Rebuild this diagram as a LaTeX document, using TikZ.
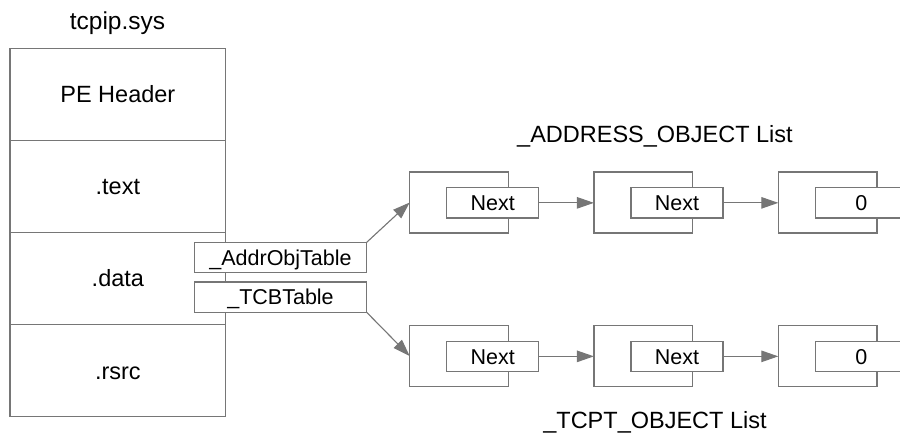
\documentclass[tikz,border=0pt]{standalone}
\usepackage{fontspec}
\setmainfont{Liberation Sans}
\usetikzlibrary{arrows.meta}
\definecolor{linegray}{RGB}{118,118,118}
\tikzset{
  base/.style={inner sep=0pt, outer sep=0pt, text depth=0pt, text=black},
  big/.style={font=\fontsize{23.5}{28}\selectfont, text height=16.8pt},
  small/.style={font=\fontsize{21.5}{26}\selectfont, text height=15.4pt},
  sect/.style={base, big, draw=linegray, line width=1.2pt, fill=white, minimum width=215.7pt, minimum height=92.1pt},
  varbox/.style={base, small, draw=linegray, line width=1.2pt, fill=white, minimum width=172.4pt, minimum height=30.4pt},
  outerbox/.style={base, draw=linegray, line width=1.2pt, fill=white, minimum width=98.6pt, minimum height=61pt},
  innerbox/.style={base, small, draw=linegray, line width=1.2pt, fill=white, minimum width=92pt, minimum height=30.3pt},
  lbl/.style={base, big},
  link/.style={draw=linegray, line width=1.1pt, -{Triangle[length=17pt,width=11.5pt]}, fill=linegray}
}
\begin{document}
\begin{tikzpicture}[x=1pt,y=-1pt]
\useasboundingbox (0,0) rectangle (900,434);
\clip (0,0) rectangle (900,434);
% file column
\node[inner sep=0pt, anchor=base, font=\fontsize{24.5}{29}\selectfont] (title) at (117.5,29.3) {tcpip.sys};
\node[sect] (pe) at (117.85,94.35) {PE Header};
\node[sect] (text) at (117.85,186.45) {.text};
\node[sect] (data) at (117.85,278.55) {.data};
\node[sect] (rsrc) at (117.85,370.65) {.rsrc};
% variables
\node[varbox] (addr) at (280.5,257.5) {\_AddrObjTable};
\node[varbox] (tcb) at (280.5,297.15) {\_TCBTable};
% address object list
\node[lbl] (alabel) at (655,134.5) {\_ADDRESS\_OBJECT List};
\node[outerbox] (a1) at (459,202.5) {};
\node[outerbox] (a2) at (643.2,202.5) {};
\node[outerbox] (a3) at (827.6,202.5) {};
\node[innerbox] (an1) at (492.7,202.85) {Next};
\node[innerbox] (an2) at (677,202.85) {Next};
\node[innerbox] (an3) at (861.3,202.85) {0};
% tcb list
\node[lbl] (tlabel) at (655,420.5) {\_TCPT\_OBJECT List};
\node[outerbox] (t1) at (459,356) {};
\node[outerbox] (t2) at (643.2,356) {};
\node[outerbox] (t3) at (827.6,356) {};
\node[innerbox] (tn1) at (492.7,356.35) {Next};
\node[innerbox] (tn2) at (677,356.35) {Next};
\node[innerbox] (tn3) at (861.3,356.35) {0};
% connectors
\draw[link] (addr.north east) -- (a1.west);
\draw[link] (tcb.south east) -- (t1.west);
\draw[link] (an1.east) -- (an1.east -| a2.west);
\draw[link] (an2.east) -- (an2.east -| a3.west);
\draw[link] (tn1.east) -- (tn1.east -| t2.west);
\draw[link] (tn2.east) -- (tn2.east -| t3.west);
\end{tikzpicture}
\end{document}
